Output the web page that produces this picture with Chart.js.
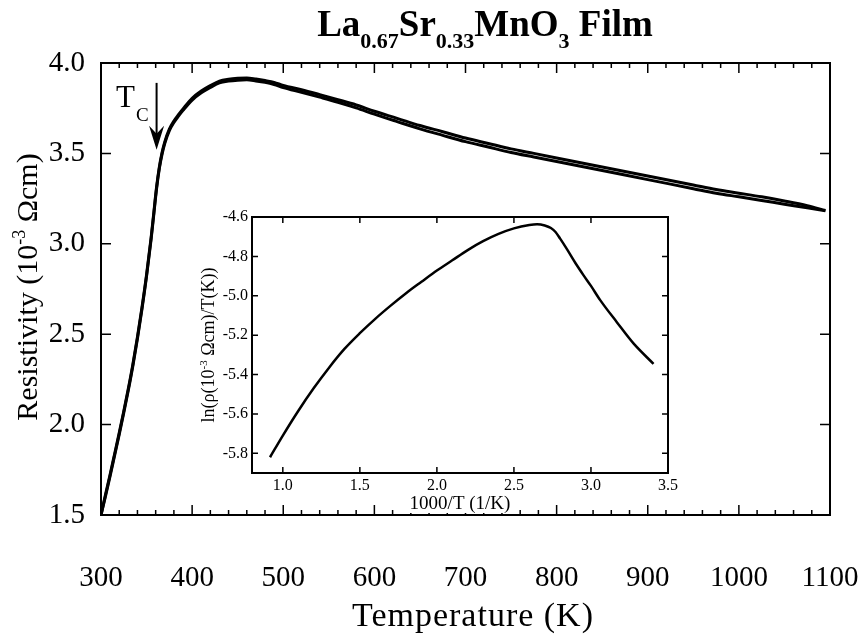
<!DOCTYPE html>
<html>
<head>
<meta charset="utf-8">
<script src="https://cdn.jsdelivr.net/npm/chart.js@4.4.1/dist/chart.umd.min.js"></script>
<style>
  html, body { margin: 0; padding: 0; background: #fff; }
  #wrap { position: relative; width: 859px; height: 635px; }
  #main { position: absolute; left: 0; top: 0; }
  #inset { position: absolute; left: 170px; top: 190px; }
</style>
</head>
<body>
<div id="wrap">
  <canvas id="main" width="859" height="635"></canvas>
  <canvas id="inset" width="510" height="330"></canvas>
</div>
<script>
// main panel: resistivity vs temperature (two sweeps, heating / cooling)
const temps = [300, 305, 310, 315, 320, 325, 330, 335, 340, 345, 350, 355, 358, 361, 364, 367, 370, 375, 380, 385,
  390, 400, 410, 420, 430, 440, 450, 460, 470, 480, 490, 500, 520, 540, 560, 580, 600, 625, 650, 675,
  700, 725, 750, 775, 800, 825, 850, 875, 900, 925, 950, 975, 1000, 1025, 1050, 1075, 1095];
const rhoHeating = [1.50, 1.614, 1.724, 1.839, 1.954, 2.074, 2.199, 2.334, 2.484, 2.649, 2.829, 3.034, 3.174, 3.314, 3.424, 3.504, 3.564, 3.634, 3.679, 3.714,
  3.746, 3.805, 3.845, 3.875, 3.90, 3.91, 3.915, 3.917, 3.911, 3.903, 3.893, 3.876, 3.852, 3.825, 3.797, 3.768, 3.733, 3.694, 3.654, 3.62,
  3.585, 3.555, 3.525, 3.50, 3.475, 3.45, 3.425, 3.40, 3.375, 3.35, 3.325, 3.30, 3.28, 3.26, 3.237, 3.211, 3.184];
const rhoCooling = [1.50, 1.606, 1.716, 1.831, 1.946, 2.066, 2.191, 2.326, 2.476, 2.641, 2.821, 3.026, 3.166, 3.306, 3.416, 3.496, 3.556, 3.626, 3.671, 3.706,
  3.738, 3.795, 3.835, 3.865, 3.89, 3.90, 3.905, 3.907, 3.901, 3.893, 3.881, 3.864, 3.838, 3.811, 3.783, 3.752, 3.717, 3.676, 3.636, 3.60,
  3.565, 3.535, 3.505, 3.48, 3.455, 3.43, 3.405, 3.38, 3.355, 3.33, 3.305, 3.28, 3.26, 3.24, 3.219, 3.199, 3.182];

const tempTicks = [300, 400, 500, 600, 700, 800, 900, 1000, 1100];
const tempMinorTicks = [];
for (let t = 300; t <= 1100; t += 20) tempMinorTicks.push(t);
const rhoTicks = [1.5, 2.0, 2.5, 3.0, 3.5, 4.0];

// T_C arrow (temperature, from rho, to rho)
const tcTemp = 361;
const tcArrow = [3.89, 3.52];

// inset: ln(rho/T) vs 1000/T
const invT = [0.917, 1.0, 1.1, 1.2, 1.3, 1.4, 1.5, 1.6, 1.7, 1.8, 1.9, 2.0, 2.1, 2.2, 2.3, 2.4,
  2.5, 2.6, 2.65, 2.70, 2.74, 2.77, 2.80, 2.843, 2.9, 2.951, 3.0, 3.06, 3.168, 3.276, 3.406];
const lnRhoT = [-5.82, -5.71, -5.585, -5.47, -5.365, -5.27, -5.19, -5.117, -5.05, -4.987, -4.929, -4.872, -4.82, -4.768, -4.723, -4.686,
  -4.658, -4.641, -4.637, -4.643, -4.656, -4.676, -4.71, -4.762, -4.835, -4.895, -4.95, -5.022, -5.134, -5.242, -5.346];
const invTTicks = [1.0, 1.5, 2.0, 2.5, 3.0, 3.5];
const lnTicks = [-5.8, -5.6, -5.4, -5.2, -5.0, -4.8, -4.6];

const SERIF = "'Liberation Serif', 'Times New Roman', serif";

function drawRich(ctx, parts, x, y, align, spacing) {
  // parts: [text, size, dy, bold]
  ctx.letterSpacing = (spacing || 0) + "px";
  let w = 0;
  parts.forEach((p) => {
    ctx.font = (p[3] ? "bold " : "") + p[1] + "px " + SERIF;
    w += ctx.measureText(p[0]).width;
  });
  let cx = align === "center" ? x - w / 2 : x;
  parts.forEach((p) => {
    ctx.font = (p[3] ? "bold " : "") + p[1] + "px " + SERIF;
    ctx.fillText(p[0], cx, y + p[2]);
    cx += ctx.measureText(p[0]).width;
  });
  ctx.letterSpacing = "0px";
  return w;
}

// frame + inward ticks
const framePlugin = {
  id: "frame",
  afterDraw(chart, args, opts) {
    const { ctx, chartArea: a, scales } = chart;
    const x = scales.x, y = scales.y;
    ctx.save();
    ctx.strokeStyle = "#000";
    ctx.lineWidth = opts.border;
    ctx.strokeRect(a.left, a.top, a.right - a.left, a.bottom - a.top);
    ctx.lineWidth = 1.5;
    ctx.beginPath();
    (opts.xMinor || []).forEach((v) => {
      const px = x.getPixelForValue(v);
      ctx.moveTo(px, a.bottom); ctx.lineTo(px, a.bottom - opts.minorLen);
      ctx.moveTo(px, a.top); ctx.lineTo(px, a.top + opts.minorLen);
    });
    opts.xMajor.forEach((v) => {
      const px = x.getPixelForValue(v);
      ctx.moveTo(px, a.bottom); ctx.lineTo(px, a.bottom - opts.majorLen);
      ctx.moveTo(px, a.top); ctx.lineTo(px, a.top + opts.majorLen);
    });
    opts.yMajor.forEach((v) => {
      const py = y.getPixelForValue(v);
      ctx.moveTo(a.left, py); ctx.lineTo(a.left + opts.majorLen, py);
      ctx.moveTo(a.right, py); ctx.lineTo(a.right - opts.majorLen, py);
    });
    ctx.stroke();
    ctx.restore();
  },
};

const mainLabels = {
  id: "mainLabels",
  afterDraw(chart) {
    const { ctx, scales } = chart;
    ctx.save();
    ctx.fillStyle = "#000";
    ctx.textBaseline = "alphabetic";
    // title
    drawRich(ctx, [
      ["La", 37, 0, true], ["0.67", 22, 12, true], ["Sr", 37, 0, true], ["0.33", 22, 12, true],
      ["MnO", 37, 0, true], ["3", 22, 12, true], [" Film", 37, 0, true],
    ], 485, 36, "center");
    // x title
    drawRich(ctx, [["Temperature (K)", 34, 0]], 473, 626, "center", 1);
    // y title
    ctx.save();
    ctx.translate(37, 287);
    ctx.rotate(-Math.PI / 2);
    drawRich(ctx, [["Resistivity (10", 30, 0], ["-3", 18, -12], [" \u03A9cm)", 30, 0]], 0, 0, "center");
    ctx.restore();
    // T_C marker
    const ax = scales.x.getPixelForValue(tcTemp);
    const y0 = scales.y.getPixelForValue(tcArrow[0]);
    const y1 = scales.y.getPixelForValue(tcArrow[1]);
    drawRich(ctx, [["T", 31, 0]], 116, 107, "left");
    drawRich(ctx, [["C", 19, 0]], 136, 121, "left");
    ctx.strokeStyle = "#000";
    ctx.lineWidth = 2;
    ctx.beginPath();
    ctx.moveTo(ax, y0);
    ctx.lineTo(ax, y1 - 12);
    ctx.stroke();
    ctx.beginPath();
    ctx.moveTo(ax, y1);
    ctx.lineTo(ax - 7.5, y1 - 24);
    ctx.lineTo(ax, y1 - 16);
    ctx.lineTo(ax + 7.5, y1 - 24);
    ctx.closePath();
    ctx.fill();
    ctx.restore();
  },
};

const insetLabels = {
  id: "insetLabels",
  afterDraw(chart) {
    const { ctx, chartArea: a } = chart;
    ctx.save();
    // white patch so the main axis ticks do not show through the inset title
    ctx.font = "19px " + SERIF;
    const tw = ctx.measureText("1000/T (1/K)").width;
    const cx = (a.left + a.right) / 2;
    ctx.fillStyle = "#fff";
    ctx.fillRect(cx - tw / 2 - 2, 302, tw + 4, 21);
    ctx.fillStyle = "#000";
    ctx.textBaseline = "alphabetic";
    drawRich(ctx, [["1000/T (1/K)", 19, 0]], cx, 319, "center");
    ctx.translate(44, 155);
    ctx.rotate(-Math.PI / 2);
    drawRich(ctx, [["ln(\u03C1(10", 18, 0], ["-3", 11, -7], [" \u03A9cm)/T(K))", 18, 0]], 0, 0, "center");
    ctx.restore();
  },
};

function pts(xs, ys) {
  return xs.map((v, i) => ({ x: v, y: ys[i] }));
}

function fixedTicks(values) {
  return (scale) => { scale.ticks = values.map((v) => ({ value: v })); };
}

function noPad(width, height) {
  return (s) => {
    if (width) s.width = width;
    if (height) s.height = height;
    s.paddingLeft = 0; s.paddingRight = 0; s.paddingTop = 0; s.paddingBottom = 0;
  };
}

function lineSet(data, width) {
  return {
    data,
    borderColor: "#000",
    borderWidth: width,
    pointRadius: 0,
    fill: false,
    cubicInterpolationMode: "monotone",
  };
}

new Chart(document.getElementById("main"), {
  type: "line",
  data: {
    datasets: [
      lineSet(pts(temps, rhoHeating), 3),
      lineSet(pts(temps, rhoCooling), 3),
    ],
  },
  options: {
    responsive: false,
    animation: false,
    devicePixelRatio: 1,
    layout: { padding: { left: 0, top: 63, right: 29, bottom: 0 } },
    plugins: {
      legend: { display: false },
      tooltip: { enabled: false },
      frame: { border: 2, majorLen: 10, minorLen: 5, xMajor: tempTicks, xMinor: tempMinorTicks, yMajor: rhoTicks },
    },
    scales: {
      x: {
        type: "linear",
        min: 300,
        max: 1100,
        afterBuildTicks: fixedTicks(tempTicks),
        afterFit: noPad(0, 120),
        grid: { display: false, drawTicks: false },
        border: { display: false },
        ticks: {
          color: "#000",
          padding: 46,
          maxRotation: 0,
          autoSkip: false,
          font: { family: SERIF, size: 29 },
          callback: (v) => String(v),
        },
      },
      y: {
        min: 1.5,
        max: 4.0,
        afterBuildTicks: fixedTicks(rhoTicks),
        afterFit: noPad(101, 0),
        grid: { display: false, drawTicks: false },
        border: { display: false },
        ticks: {
          color: "#000",
          padding: 16,
          autoSkip: false,
          font: { family: SERIF, size: 29 },
          callback: (v) => v.toFixed(1),
        },
      },
    },
  },
  plugins: [framePlugin, mainLabels],
});

new Chart(document.getElementById("inset"), {
  type: "line",
  data: { datasets: [lineSet(pts(invT, lnRhoT), 2.5)] },
  options: {
    responsive: false,
    animation: false,
    devicePixelRatio: 1,
    layout: { padding: { left: 0, top: 27, right: 12, bottom: 0 } },
    plugins: {
      legend: { display: false },
      tooltip: { enabled: false },
      frame: { border: 2, majorLen: 6, minorLen: 0, xMajor: invTTicks, yMajor: lnTicks },
    },
    scales: {
      x: {
        type: "linear",
        min: 0.8,
        max: 3.5,
        afterBuildTicks: fixedTicks(invTTicks),
        afterFit: noPad(0, 47),
        grid: { display: false, drawTicks: false },
        border: { display: false },
        ticks: {
          color: "#000",
          padding: 3,
          maxRotation: 0,
          autoSkip: false,
          font: { family: SERIF, size: 16 },
          callback: (v) => v.toFixed(1),
        },
      },
      y: {
        min: -5.9,
        max: -4.6,
        afterBuildTicks: fixedTicks(lnTicks),
        afterFit: noPad(82, 0),
        grid: { display: false, drawTicks: false },
        border: { display: false },
        ticks: {
          color: "#000",
          padding: 4,
          autoSkip: false,
          font: { family: SERIF, size: 16 },
          callback: (v) => v.toFixed(1),
        },
      },
    },
  },
  plugins: [framePlugin, insetLabels],
});
</script>
</body>
</html>
